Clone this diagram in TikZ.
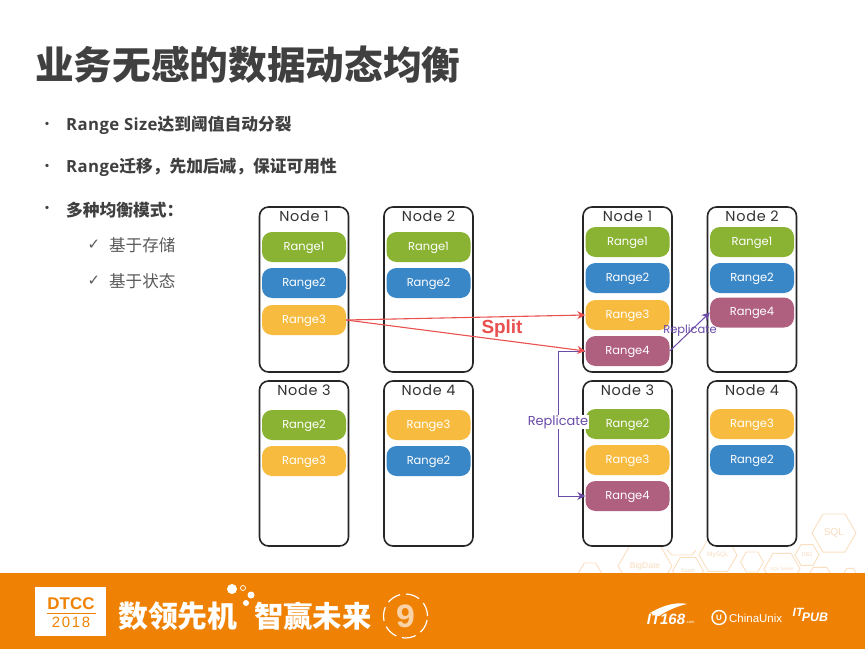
\documentclass[tikz,border=0pt]{standalone}
\usepackage{fontspec}
\setmainfont{Poppins}
\newfontfamily\titleface[LetterSpace=5]{Poppins}
\newfontfamily\cjk{Noto Sans CJK SC}
\newfontfamily\symb{DejaVu Sans}
\newfontfamily\arial{Liberation Sans}
\newfontfamily\arialwide[LetterSpace=11]{Liberation Sans}
\newfontfamily\nineface{Liberation Mono}
\newfontfamily\latinbold[LetterSpace=2.4]{Open Sans}
\usetikzlibrary{shapes.geometric, arrows.meta}
\definecolor{bannerorange}{HTML}{EF8204}
\definecolor{titlegray}{HTML}{404040}
\definecolor{bodygray}{HTML}{5A5A5A}
\definecolor{rangegreen}{HTML}{8AB333}
\definecolor{rangeblue}{HTML}{3A87C8}
\definecolor{rangeyellow}{HTML}{F7BC3F}
\definecolor{rangeplum}{HTML}{B0607F}
\definecolor{splitred}{HTML}{E9504F}
\definecolor{replpurple}{HTML}{6A4BA8}
\definecolor{hexline}{HTML}{FADFC0}
\definecolor{hextext}{HTML}{F8DCBE}
\tikzset{
    nodebox/.style={draw=black!85, line width=1.6bp, rounded corners=9bp, fill=white,
        minimum width=89bp, minimum height=165bp, inner sep=0pt},
    nodetitle/.style={font=\titleface\fontsize{14.5}{15}\selectfont, text=black!80, inner sep=0pt},
    rangebox/.style={rounded corners=10bp, minimum width=84bp, minimum height=30bp,
        inner sep=0pt, text=white, text height=8.5bp, text depth=2.5bp, font=\fontsize{11.5}{12}\selectfont},
    range1/.style={rangebox, fill=rangegreen},
    range2/.style={rangebox, fill=rangeblue},
    range3/.style={rangebox, fill=rangeyellow},
    range4/.style={rangebox, fill=rangeplum},
    bulletdot/.style={text=titlegray, inner sep=0pt, font=\cjk\bfseries\fontsize{12}{12}\selectfont},
    checkmark/.style={text=bodygray, inner sep=0pt, font=\symb\fontsize{15}{15}\selectfont},
    bullettext/.style={anchor=west, inner sep=0pt, text=titlegray,
        font=\cjk\bfseries\fontsize{16.8}{18}\selectfont},
    subtext/.style={anchor=west, inner sep=0pt, text=bodygray,
        font=\cjk\fontsize{16.6}{18}\selectfont},
    hexcell/.style={regular polygon, regular polygon sides=6, draw=hexline, line width=0.9bp,
        inner sep=0pt},
    hexlabel/.style={text=hextext, inner sep=0pt, font=\arial\fontsize{#1}{#1}\selectfont},
    splitline/.style={-{Stealth[length=8bp, width=8bp]}, draw=splitred, line width=1.1bp},
    repline/.style={-{Stealth[length=8bp, width=8bp]}, draw=replpurple, line width=1bp},
    replabel/.style={text=replpurple, inner sep=0.5bp, font=\fontsize{#1}{14}\selectfont},
    logotext/.style={text=white, inner sep=0pt, font=\arial\bfseries\itshape\fontsize{#1}{#1}\selectfont},
    bubble/.style={circle, fill=white, inner sep=0pt}
}
\begin{document}
\begin{tikzpicture}[x=1bp, y=-1bp, >=stealth]
    \useasboundingbox (0,0) rectangle (865,649);
    \fill[white] (0,0) rectangle (865,649);

    % --- Title and bullets ---
    \node[anchor=west, inner sep=0pt, text=titlegray, font=\cjk\bfseries\fontsize{38.8}{40}\selectfont] (title) at (35,65) {业务无感的数据动态均衡};

    \node[bulletdot] (dot1) at (47,125) {·};
    \node[bullettext] (item1) at (66,125.5) {{\latinbold Range Size}达到阈值自动分裂};
    \node[bulletdot] (dot2) at (47,167) {·};
    \node[bullettext] (item2) at (66,167.5) {{\latinbold Range}迁移，先加后减，保证可用性};
    \node[bulletdot] (dot3) at (47,209) {·};
    \node[bullettext] (item3) at (66,210) {多种均衡模式：};

    \node[checkmark] (check1) at (94,245) {✓};
    \node[subtext] (sub1) at (109,245.5) {基于存储};
    \node[checkmark] (check2) at (94,281) {✓};
    \node[subtext] (sub2) at (109,281.5) {基于状态};

    % --- Hexagons behind the banner ---
    \node[hexcell, minimum size=44bp, label={[hexlabel=10]center:SQL}] (hexsql) at (834,533) {};
    \node[hexcell, minimum size=24bp, label={[hexlabel=5.5]center:DB2}] (hexdb) at (807,555) {};
    \node[hexcell, minimum size=38bp, label={[hexlabel=6.5]center:MySQL}] (hexmysql) at (718,555) {};
    \node[hexcell, minimum size=54bp, label={[hexlabel=8.5]center:BigDate}] (hexbig) at (645,566) {};
    \node[hexcell, minimum size=31bp, label={[hexlabel=5.5]center:Spark}] (hexspark) at (688,571) {};
    \node[hexcell, minimum size=23bp] (hexsmall) at (752,562) {};
    \node[hexcell, minimum size=36bp, label={[hexlabel=4.5]center:SQL Server}] (hexserver) at (782,569) {};
    \node[hexcell, minimum size=23bp] (hexleft) at (590,573) {};
    \node[hexcell, minimum size=27bp] (hexlow) at (820,579) {};
    \node[hexcell, minimum size=13bp] (hexedge) at (850,574) {};
    \draw[draw=hexline, line width=0.9bp] (667,550) -- (672,555) -- (692,555) -- (696,550);

    % --- Left cluster ---
    \node[nodebox] (lbox1) at (304,289.5) {};
    \node[nodebox] (lbox2) at (428.5,289.5) {};
    \node[nodebox] (lbox3) at (304,463.5) {};
    \node[nodebox] (lbox4) at (428.5,463.5) {};
    \node[nodetitle] (ltitle1) at (304,216) {Node 1};
    \node[nodetitle] (ltitle2) at (428.5,216) {Node 2};
    \node[nodetitle] (ltitle3) at (304,390.5) {Node 3};
    \node[nodetitle] (ltitle4) at (428.5,390.5) {Node 4};

    \node[range1] (la1) at (304,247) {Range1};
    \node[range2] (la2) at (304,283) {Range2};
    \node[range3] (la3) at (304,320) {Range3};
    \node[range1] (lb1) at (428.5,247) {Range1};
    \node[range2] (lb2) at (428.5,283) {Range2};
    \node[range1] (lc2) at (304,425) {Range2};
    \node[range3] (lc3) at (304,461) {Range3};
    \node[range3] (ld3) at (428.5,425) {Range3};
    \node[range2] (ld2) at (428.5,461) {Range2};

    % --- Right cluster ---
    \node[nodebox] (rbox1) at (627.5,289.5) {};
    \node[nodebox] (rbox2) at (752,289.5) {};
    \node[nodebox] (rbox3) at (627.5,463.5) {};
    \node[nodebox] (rbox4) at (752,463.5) {};
    \node[nodetitle] (rtitle1) at (627.5,216) {Node 1};
    \node[nodetitle] (rtitle2) at (752,216) {Node 2};
    \node[nodetitle] (rtitle3) at (627.5,390.5) {Node 3};
    \node[nodetitle] (rtitle4) at (752,390.5) {Node 4};

    \node[range1] (ra1) at (627.5,242) {Range1};
    \node[range2] (ra2) at (627.5,278) {Range2};
    \node[range3] (ra3) at (627.5,315) {Range3};
    \node[range4] (ra4) at (627.5,351) {Range4};
    \node[range1] (rb1) at (752,242) {Range1};
    \node[range2] (rb2) at (752,278) {Range2};
    \node[range4] (rb4) at (752,312.5) {Range4};
    \node[range1] (rc2) at (627.5,424) {Range2};
    \node[range3] (rc3) at (627.5,460) {Range3};
    \node[range4] (rc4) at (627.5,496) {Range4};
    \node[range3] (rd3) at (752,424) {Range3};
    \node[range2] (rd2) at (752,460) {Range2};

    % --- Replicate arrows ---
    \coordinate (bend) at (558,351);
    \draw[repline] (ra4.west) -- (bend) |- (rc4.west);
    \draw[repline] (ra4.east) -- (rb4.west);
    \node[replabel=13, fill=white] (replow) at (558,422) {Replicate};
    \node[replabel=11.5] (repup) at (690,331) {Replicate};

    % --- Split arrows ---
    \draw[splitline] (la3.east) -- (ra3.west);
    \draw[splitline] (la3.east) -- (ra4.west);
    \node[text=splitred, inner sep=0pt, font=\arial\bfseries\fontsize{19}{20}\selectfont] (split) at (502,329) {Split};

    % --- Banner ---
    \fill[bannerorange] (0,573) rectangle (865,649);
    \node[fill=white, minimum width=71bp, minimum height=49bp, inner sep=0pt] (logobox) at (70.5,611.5) {};
    \node[text=bannerorange, inner sep=0pt, font=\arial\bfseries\fontsize{17}{18}\selectfont] (dtcc) at (71,604) {DTCC};
    \draw[bannerorange, line width=0.7bp] (47,613) -- (96,613);
    \node[text=bannerorange, inner sep=0pt, font=\arialwide\fontsize{15}{16}\selectfont] (year) at (71,622.5) {2018};

    \node[anchor=west, text=white, inner sep=0pt, font=\cjk\bfseries\fontsize{30}{32}\selectfont] (slogan1) at (118,616) {数领先机};
    \node[anchor=west, text=white, inner sep=0pt, font=\cjk\bfseries\fontsize{29.5}{32}\selectfont] (slogan2) at (254,616) {智赢未来};
    \node[bubble, minimum size=10bp] (bub1) at (232,589) {};
    \node[circle, draw=white, line width=0.7bp, inner sep=0pt, minimum size=5bp] (bub2) at (243,588) {};
    \node[bubble, minimum size=7bp] (bub3) at (251,595) {};
    \node[bubble, minimum size=6bp] (bub4) at (246,603) {};

    \node[circle, draw=white, line width=1.2bp, dash pattern=on 14bp off 6bp, minimum size=44bp, inner sep=0pt] (ring) at (405.5,616) {};
    \node[text=white!65!bannerorange, inner sep=0pt, font=\nineface\bfseries\fontsize{34}{34}\selectfont] (nine) at (405.5,616) {9};

    \node[logotext=15] (it168) at (666,619) {IT168};
    \fill[white] (650,613) .. controls (665,604) and (678,602) .. (687,604) .. controls (678,606) and (668,610) .. (659,616) -- cycle;
    \node[text=white, inner sep=0pt, font=\arial\fontsize{4}{4}\selectfont] (itcom) at (690,622) {.com};
    \node[circle, draw=white, line width=1.4bp, inner sep=0pt, minimum size=14bp, font=\arial\bfseries\fontsize{8}{8}\selectfont, text=white] (cu) at (719,617.5) {U};
    \node[anchor=west, text=white, inner sep=0pt, font=\arial\fontsize{11.5}{12}\selectfont] (cutext) at (729,618) {ChinaUnix};
    \node[logotext=12] (itpart) at (798,612) {IT};
    \node[logotext=12.5] (pubpart) at (815,617) {PUB};
\end{tikzpicture}
\end{document}
